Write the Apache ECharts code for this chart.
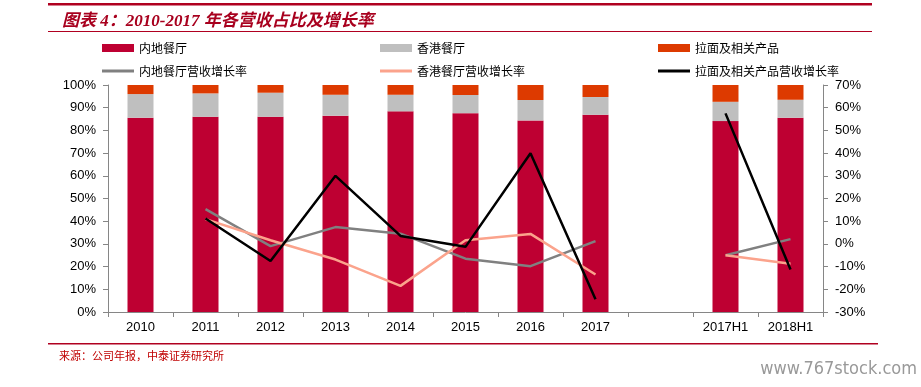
<!DOCTYPE html>
<html><head><meta charset="utf-8">
<script src="https://cdn.jsdelivr.net/npm/echarts@6/dist/echarts.min.js"></script>
<style>html,body{margin:0;padding:0;background:#fff}#c{width:921px;height:387px}</style>
</head><body><div id="c"></div>
<script>
const categories = ['2010','2011','2012','2013','2014','2015','2016','2017','','2017H1','2018H1'];
const mainlandShare = [85.6,86.0,86.0,86.5,88.4,87.6,84.4,86.9,null,84.1,85.6];
const hkShare       = [10.4,10.3,10.6,9.2,7.3,8.0,9.0,7.8,null,8.5,7.9];
const ramenShare    = [4.0,3.7,3.4,4.3,4.3,4.4,6.6,5.3,null,7.4,6.5];
const mainlandGrowth = [null,15.3,-1.0,7.4,4.5,-6.5,-9.8,1.2,null,-5.0,2.1];
const hkGrowth       = [null,10.9,1.6,-6.9,-18.5,1.6,4.4,-13.5,null,-5.0,-8.7];
const ramenGrowth    = [null,11.2,-7.5,30.0,3.5,-1.3,39.9,-24.4,null,57.5,-11.3];
const leftTicks = {min:0,max:100,interval:10};
const rightTicks = {min:-30,max:70,interval:10};

const chart = echarts.init(document.getElementById('c'));
const cjk = '"Noto Sans CJK SC", sans-serif';
const legendText = {fontFamily: cjk, fontSize: 12, color: '#000'};
function lg(name, left, top, h) {
  return {data:[name], left:left, top:top, itemWidth:32, itemHeight:h, icon:'rect', itemGap:0,
          textStyle:legendText, selectedMode:false, padding:0};
}
const axisLine = {show:true, lineStyle:{color:'#868686', width:1}};
const labelFont = {fontFamily:'"Liberation Sans", Arial, sans-serif', fontSize:13, color:'#000'};
chart.setOption({
  animation:false,
  title:{text:'图表 4：2010-2017 年各营收占比及增长率', left:57, top:8,
    textStyle:{fontFamily:'"Liberation Serif", ' + cjk, fontSize:17, fontWeight:'bold', fontStyle:'italic', color:'#A8001E'}},
  legend:[
    lg('内地餐厅',102,42,8), lg('香港餐厅',380,42,8), lg('拉面及相关产品',658,42,8),
    lg('内地餐厅营收增长率',102,65,3), lg('香港餐厅营收增长率',380,65,3), lg('拉面及相关产品营收增长率',658,65,3)
  ],
  grid:{left:108, right:98, top:85, bottom:75},
  xAxis:{type:'category', data:categories, boundaryGap:true,
    axisLine:axisLine, axisTick:{show:true, length:5, lineStyle:{color:'#868686'}},
    axisLabel:Object.assign({margin:9, interval:0}, labelFont)},
  yAxis:[
    {type:'value', min:leftTicks.min, max:leftTicks.max, interval:leftTicks.interval, splitLine:{show:false},
      axisLine:axisLine, axisTick:{show:true, length:5, lineStyle:{color:'#868686'}},
      axisLabel:Object.assign({margin:12, formatter:'{value}%'}, labelFont)},
    {type:'value', min:rightTicks.min, max:rightTicks.max, interval:rightTicks.interval, splitLine:{show:false},
      axisLine:axisLine, axisTick:{show:true, length:5, lineStyle:{color:'#868686'}},
      axisLabel:Object.assign({margin:12, formatter:'{value}%'}, labelFont)}
  ],
  series:[
    {name:'内地餐厅', type:'bar', stack:'s', data:mainlandShare, barWidth:26, itemStyle:{color:'#BE0032'}},
    {name:'香港餐厅', type:'bar', stack:'s', data:hkShare, barWidth:26, itemStyle:{color:'#BFBFBF'}},
    {name:'拉面及相关产品', type:'bar', stack:'s', data:ramenShare, barWidth:26, itemStyle:{color:'#DD3A00'}},
    {name:'内地餐厅营收增长率', type:'line', yAxisIndex:1, data:mainlandGrowth, symbol:'none', itemStyle:{color:'#808080'}, lineStyle:{color:'#808080', width:2.5}},
    {name:'香港餐厅营收增长率', type:'line', yAxisIndex:1, data:hkGrowth, symbol:'none', itemStyle:{color:'#FBA38C'}, lineStyle:{color:'#FBA38C', width:2.5}},
    {name:'拉面及相关产品营收增长率', type:'line', yAxisIndex:1, data:ramenGrowth, symbol:'none', itemStyle:{color:'#000'}, lineStyle:{color:'#000', width:2.5}}
  ],
  graphic:[
    {type:'rect', shape:{x:48,y:3,width:824,height:2.5}, style:{fill:'#B00020'}},
    {type:'rect', shape:{x:48,y:31,width:824,height:1}, style:{fill:'#B00020'}},
    {type:'rect', shape:{x:48,y:343,width:830,height:1.5}, style:{fill:'#B00020'}},
    {type:'text', left:59, top:350, style:{text:'来源：公司年报，中泰证券研究所', fill:'#C00000', font:'11px "Noto Sans CJK SC", sans-serif'}},
    {type:'text', right:4, top:360, style:{text:'www.767stock.com', fill:'#999999', font:'18px "Liberation Sans Narrow", "DejaVu Sans Condensed", sans-serif'}}
  ]
});
</script></body></html>
